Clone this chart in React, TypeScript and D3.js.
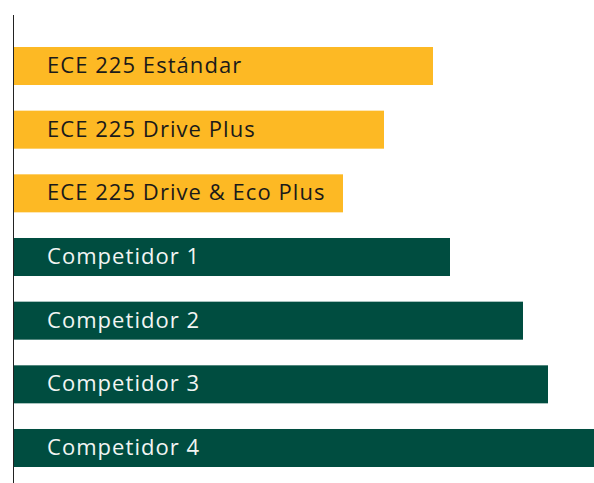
import React from "react";
import * as d3 from "d3";

const categories = [
  "ECE 225 Estándar",
  "ECE 225 Drive Plus",
  "ECE 225 Drive & Eco Plus",
  "Competidor 1",
  "Competidor 2",
  "Competidor 3",
  "Competidor 4",
];
const values = [420, 371, 330, 437, 510, 535, 581];
const groups = ["ece", "ece", "ece", "comp", "comp", "comp", "comp"];

const W = 594;
const H = 483;

export default function App() {
  const x = d3.scaleLinear().domain([0, 581]).range([13, 594]);
  const y = d3
    .scaleBand<string>()
    .domain(categories)
    .range([47, 467])
    .paddingInner(0.403)
    .paddingOuter(0);
  const color = d3
    .scaleOrdinal<string, string>()
    .domain(["ece", "comp"])
    .range(["#FDB924", "#004D40"]);
  const textColor = d3
    .scaleOrdinal<string, string>()
    .domain(["ece", "comp"])
    .range(["#1a1a1a", "#f2f5f3"]);

  return (
    <svg
      width={W}
      height={H}
      style={{ position: "absolute", left: 0, top: 0, display: "block" }}
    >
      {categories.map((c, i) => {
        const y0 = y(c)!;
        return (
          <g key={c}>
            <rect
              x={x(0)}
              y={y0}
              width={x(values[i]) - x(0)}
              height={y.bandwidth()}
              fill={color(groups[i])}
            />
            <text
              x={47}
              y={y0 + 26}
              fill={textColor(groups[i])}
              fontFamily="'Open Sans', sans-serif"
              fontSize={22}
              fontWeight={400}
              letterSpacing={1.05}
            >
              {c}
            </text>
          </g>
        );
      })}
      <line x1={13.5} x2={13.5} y1={15} y2={H} stroke="#222" strokeWidth={1} />
    </svg>
  );
}
